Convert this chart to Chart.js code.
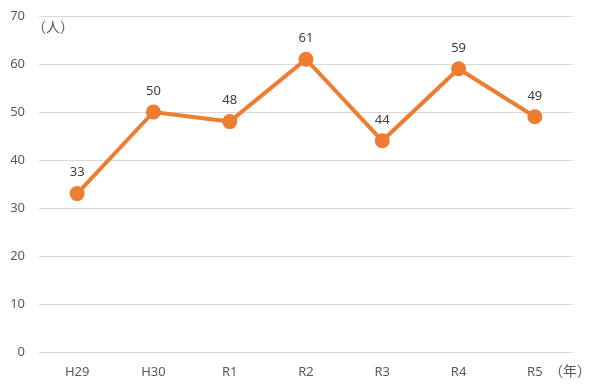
<!DOCTYPE html>
<html>
<head>
<meta charset="utf-8">
<script src="https://cdn.jsdelivr.net/npm/chart.js@4"></script>
<style>
  html, body { margin: 0; padding: 0; background: #fff; }
  #wrap { width: 600px; height: 391px; }
</style>
</head>
<body>
<div id="wrap"><canvas id="myChart" width="600" height="391"></canvas></div>
<script>
// data
let years = ['H29', 'H30', 'R1', 'R2', 'R3', 'R4', 'R5'];
let people = [33, 50, 48, 61, 44, 59, 49];
let yUnit = '（人）';
let xUnit = '（年）';

let tickFont = { family: "'Segoe UI', 'Noto Sans', sans-serif", size: 13 };

// value labels above each point
let valueLabels = {
    id: 'valueLabels',
    afterDatasetsDraw(chart) {
        let ctx = chart.ctx;
        let meta = chart.getDatasetMeta(0);
        ctx.save();
        ctx.fillStyle = '#404040';
        ctx.font = "13px 'Noto Sans', sans-serif";
        ctx.textAlign = 'center';
        ctx.textBaseline = 'middle';
        meta.data.forEach(function (pt, i) {
            ctx.fillText(String(people[i]), pt.x, pt.y - 21);
        });
        ctx.restore();
    }
};

// unit texts
let unitLabels = {
    id: 'unitLabels',
    afterDraw(chart) {
        let ctx = chart.ctx;
        let area = chart.chartArea;
        ctx.save();
        ctx.fillStyle = '#595959';
        ctx.font = "14px 'Noto Sans CJK JP', sans-serif";
        ctx.textBaseline = 'middle';
        ctx.textAlign = 'left';
        ctx.fillText(yUnit, area.left - 7, area.top + 11);
        ctx.fillText(xUnit, area.right - 24, area.bottom + 19);
        ctx.restore();
    }
};

let config = {
    type: 'line',
    data: {
        labels: years,
        datasets: [{
            data: people,
            borderColor: '#ED7D31',
            backgroundColor: '#ED7D31',
            borderWidth: 4,
            pointRadius: 5.5,
            pointHoverRadius: 5.5,
            tension: 0
        }]
    },
    options: {
        responsive: false,
        animation: false,
        layout: { padding: { top: 16, right: 27, left: 0, bottom: 0 } },
        plugins: {
            legend: { display: false },
            tooltip: { enabled: false }
        },
        scales: {
            x: {
                offset: true,
                grid: { display: false, drawTicks: false, offset: true },
                border: { display: false },
                ticks: { color: '#595959', font: tickFont, padding: 12 },
                afterFit(scale) {
                    scale.height = 39;
                    scale.paddingLeft = 0;
                    scale.paddingRight = 0;
                }
            },
            y: {
                min: 0,
                max: 70,
                grid: { color: '#d9d9d9', lineWidth: 1, drawTicks: false },
                border: { display: false },
                ticks: { stepSize: 10, color: '#595959', font: tickFont, padding: 14 },
                afterFit(scale) {
                    scale.width = 39;
                    scale.paddingTop = 0;
                    scale.paddingBottom = 0;
                }
            }
        }
    },
    plugins: [valueLabels, unitLabels]
};

var myChart = new Chart(document.getElementById('myChart'), config);
</script>
</body>
</html>
